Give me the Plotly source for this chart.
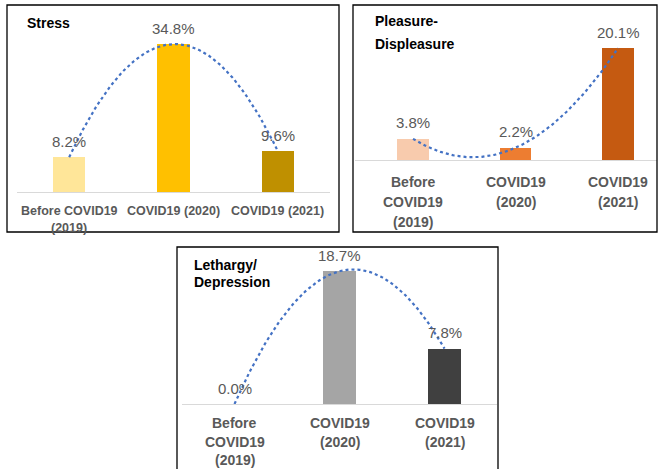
import numpy as np
import plotly.graph_objects as go

W, H = 658, 469

categories_stress = ["Before COVID19<br>(2019)", "COVID19 (2020)", "COVID19 (2021)"]
categories_3line = ["Before<br>COVID19<br>(2019)", "COVID19<br>(2020)", "COVID19<br>(2021)"]

stress = [8.2, 34.8, 9.6]
pleasure = [3.8, 2.2, 20.1]
lethargy = [0.0, 18.7, 7.8]

stress_colors = ["#FFE699", "#FFC000", "#BF9000"]
pleasure_colors = ["#F8CBAD", "#ED7D31", "#C55A11"]
lethargy_colors = ["#FFFFFF", "#A5A5A5", "#404040"]

titles = {
    "stress": ["Stress"],
    "pleasure": ["Pleasure-", "Displeasure"],
    "lethargy": ["Lethargy/", "Depression"],
}

FONT = "Liberation Sans, Arial"


def px_x(p):
    return p / W


def px_y(p):
    return 1 - p / H


panels = [
    dict(name="stress", vals=stress, colors=stress_colors, ticks=categories_stress,
         xd=(17, 330), yd=(22, 192), xr=[-0.5, 2.5], yr=[0, 40], tfs=12.5,
         border=(7, 5, 339, 232), title_pos=[(25, 23)], tick_first=19, tick_step=17),
    dict(name="pleasure", vals=pleasure, colors=pleasure_colors, ticks=categories_3line,
         xd=(355, 657), yd=(21, 160), xr=[-0.566, 2.38], yr=[0, 25], tfs=14,
         border=(353, 5, 657, 232), title_pos=[(373, 21), (373, 44)], tick_first=21.5, tick_step=20),
    dict(name="lethargy", vals=lethargy, colors=lethargy_colors, ticks=categories_3line,
         xd=(182, 497), yd=(262, 404), xr=[-0.5, 2.5], yr=[0, 20], tfs=14,
         border=(177, 247, 498, 475), title_pos=[(192, 265), (192, 282)], tick_first=19, tick_step=18.5),
]

fig = go.Figure()
annotations = []
shapes = []
layout_axes = {}

for i, p in enumerate(panels):
    n = "" if i == 0 else str(i + 1)
    xa, ya = "x" + n, "y" + n
    xs = [0, 1, 2]
    fig.add_trace(go.Bar(
        x=xs, y=p["vals"], marker=dict(color=p["colors"], line=dict(width=0)),
        width=0.31, xaxis=xa, yaxis=ya, showlegend=False, hoverinfo="skip"))
    # polynomial (order 2) trendline through the data
    coef = np.polyfit(xs, p["vals"], 2)
    tx = np.linspace(0, 2, 120)
    ty = np.polyval(coef, tx)
    fig.add_trace(go.Scatter(
        x=tx, y=ty, mode="lines", line=dict(color="#4472C4", width=2.2, dash="dot"),
        xaxis=xa, yaxis=ya, showlegend=False, hoverinfo="skip", cliponaxis=False))
    # data labels
    for xv, v in zip(xs, p["vals"]):
        annotations.append(dict(
            x=xv, y=v, xref=xa, yref=ya, text=f"{v:.1f}%", showarrow=False,
            yanchor="middle", yshift=16, font=dict(family=FONT, size=15, color="#595959")))
    # category labels, one annotation per line
    for xv, lab in zip(xs, p["ticks"]):
        for k, line in enumerate(lab.split("<br>")):
            annotations.append(dict(
                x=xv, y=0, xref=xa, yref=ya, text=line, showarrow=False,
                xanchor="center", yanchor="middle",
                yshift=-(p["tick_first"] + k * p["tick_step"]),
                font=dict(family=FONT, size=p["tfs"], color="#595959", weight="bold")))
    # panel titles
    for (tx_, ty_), t in zip(p["title_pos"], titles[p["name"]]):
        annotations.append(dict(
            x=px_x(tx_), y=px_y(ty_), xref="paper", yref="paper", text=t, showarrow=False,
            xanchor="left", yanchor="middle",
            font=dict(family=FONT, size=14, color="#000000", weight="bold")))
    x0, y0, x1, y1 = p["border"]
    shapes.append(dict(type="rect", xref="paper", yref="paper",
                       x0=px_x(x0), x1=px_x(x1), y0=px_y(y1), y1=px_y(y0),
                       line=dict(color="#000000", width=1.3), fillcolor="rgba(0,0,0,0)"))
    layout_axes["xaxis" + n] = dict(
        domain=[px_x(p["xd"][0]), px_x(p["xd"][1])], range=p["xr"], anchor=ya,
        tickvals=xs, showticklabels=False, showgrid=False, zeroline=False,
        showline=True, linecolor="#D9D9D9", linewidth=1.3, ticks="",
        fixedrange=True)
    layout_axes["yaxis" + n] = dict(
        domain=[px_y(p["yd"][1]), px_y(p["yd"][0])], range=p["yr"], anchor=xa,
        visible=False, fixedrange=True)

fig.update_layout(
    width=W, height=H, margin=dict(l=0, r=0, t=0, b=0),
    paper_bgcolor="white", plot_bgcolor="rgba(0,0,0,0)",
    annotations=annotations, shapes=shapes, bargap=0, **layout_axes)

fig.write_html("out.html", config={"displayModeBar": False})
